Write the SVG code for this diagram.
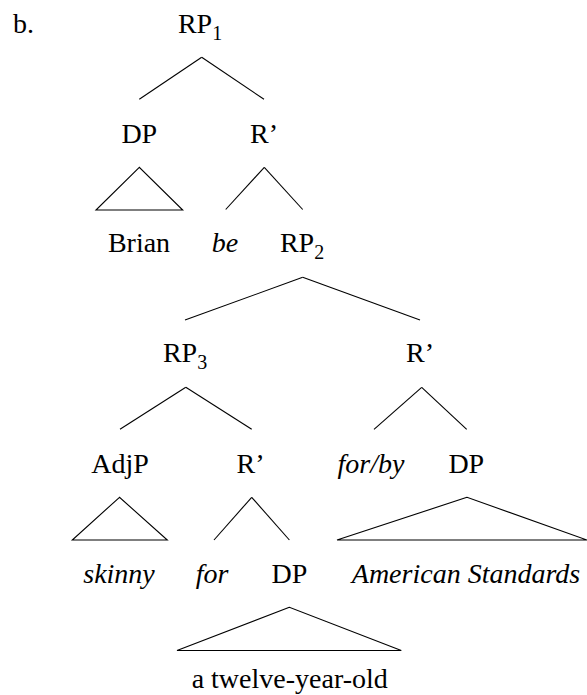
<svg xmlns="http://www.w3.org/2000/svg" width="587" height="695" viewBox="0 0 587 695">
<style>
text{font-family:"Liberation Serif",serif;font-size:28px;fill:#000;text-anchor:middle}
.it{font-style:italic}
.sub{font-size:20px}
#connectors line,#connectors polygon{stroke:#000;stroke-width:1.1;fill:none}
</style>
<rect width="587" height="695" fill="#fff"/>
<g font-family="Liberation Serif">
<text x="13" y="33" style="text-anchor:start">b.</text>
<g id="connectors">
<line x1="201.7" y1="57.3" x2="139.3" y2="99.3"/>
<line x1="201.7" y1="57.3" x2="264" y2="99.3"/>
<polygon points="139.3,167.3 96,210 182.7,210"/>
<line x1="264.3" y1="167.3" x2="225.7" y2="209.5"/>
<line x1="264.3" y1="167.3" x2="302.7" y2="209.5"/>
<line x1="302.7" y1="277.3" x2="185" y2="320"/>
<line x1="302.7" y1="277.3" x2="420" y2="320"/>
<line x1="185.8" y1="387.3" x2="120" y2="429.3"/>
<line x1="185.8" y1="387.3" x2="251.7" y2="429.3"/>
<line x1="421.7" y1="387.3" x2="374" y2="429.3"/>
<line x1="421.7" y1="387.3" x2="466.7" y2="429.3"/>
<polygon points="119.5,497.3 72.3,540 167.3,540"/>
<line x1="251.7" y1="497.3" x2="214" y2="540"/>
<line x1="251.7" y1="497.3" x2="289.4" y2="540"/>
<polygon points="467,497.3 337,540 587,540"/>
<polygon points="289.4,607.3 177,650.5 401.3,650.5"/>
</g>
<g id="RP1"><text x="200" y="33.3">RP<tspan class="sub" dy="7">1</tspan></text></g>
<g id="DP1"><text x="139.3" y="142.7">DP</text></g>
<g id="Rbar1"><text x="264" y="142.7">R’</text></g>
<g id="Brian"><text x="139" y="251.7">Brian</text></g>
<g id="be"><text class="it" x="225" y="251.7">be</text></g>
<g id="RP2"><text x="302" y="251.7">RP<tspan class="sub" dy="7">2</tspan></text></g>
<g id="RP3"><text x="185" y="362.3">RP<tspan class="sub" dy="7">3</tspan></text></g>
<g id="Rbar2"><text x="420" y="362.3">R’</text></g>
<g id="AdjP"><text x="120" y="473">AdjP</text></g>
<g id="Rbar3"><text x="250.5" y="473">R’</text></g>
<g id="forby"><text class="it" x="371" y="473">for/by</text></g>
<g id="DP2"><text x="466.3" y="473">DP</text></g>
<g id="skinny"><text class="it" x="119" y="583">skinny</text></g>
<g id="for"><text class="it" x="212" y="583">for</text></g>
<g id="DP3"><text x="289.5" y="583">DP</text></g>
<g id="AmericanStandards"><text class="it" x="466" y="583">American Standards</text></g>
<g id="twelve"><text x="289.7" y="688">a twelve-year-old</text></g>
</g>
</svg>
